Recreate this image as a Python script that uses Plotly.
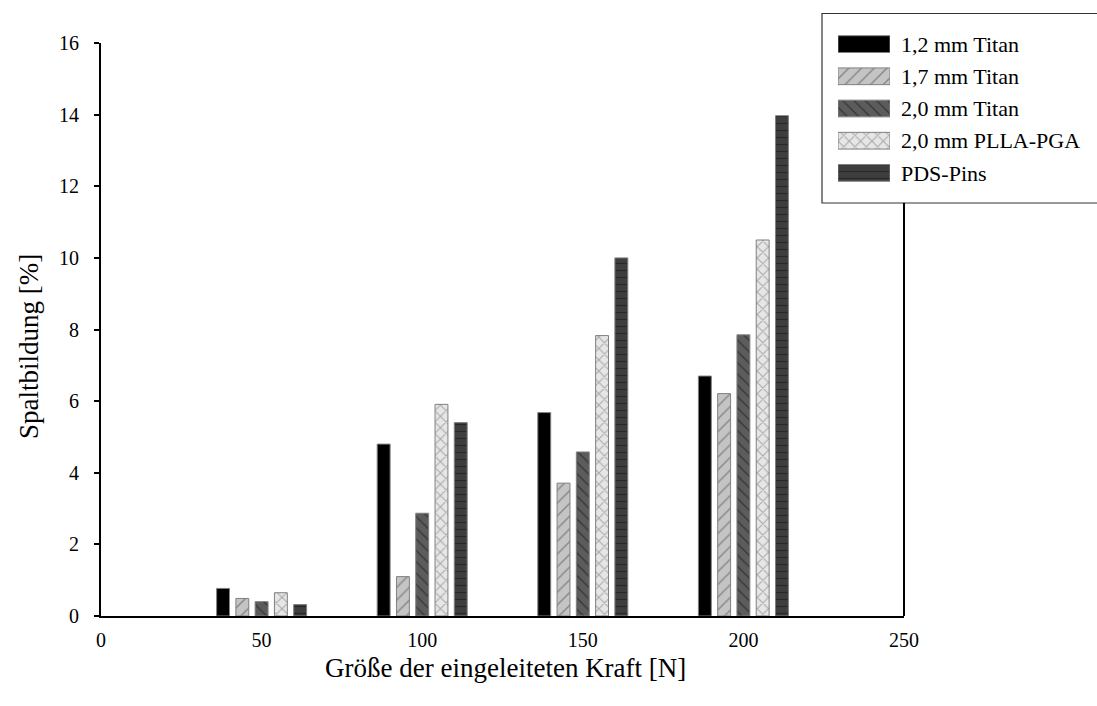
import plotly.graph_objects as go

forces = [50, 100, 150, 200]
series_names = ["1,2 mm Titan", "1,7 mm Titan", "2,0 mm Titan", "2,0 mm PLLA-PGA", "PDS-Pins"]
v_12_titan = [0.77, 4.80, 5.68, 6.70]
v_17_titan = [0.49, 1.10, 3.71, 6.21]
v_20_titan = [0.40, 2.87, 4.58, 7.85]
v_20_plla = [0.65, 5.91, 7.83, 10.50]
v_pds = [0.32, 5.40, 10.00, 13.97]
series_values = [v_12_titan, v_17_titan, v_20_titan, v_20_plla, v_pds]
y_ticks = [0, 2, 4, 6, 8, 10, 12, 14, 16]
x_ticks = [0, 50, 100, 150, 200, 250]

styles = [
    dict(color="#000000", pattern=None),
    dict(color="#c4c4c4", pattern=dict(shape="/", fgcolor="#4a4a4a", bgcolor="#c4c4c4", size=9, solidity=0.16, fillmode="overlay")),
    dict(color="#5c5c5c", pattern=dict(shape="\\", fgcolor="#151515", bgcolor="#5c5c5c", size=8, solidity=0.18, fillmode="overlay")),
    dict(color="#e6e6e6", pattern=dict(shape="x", fgcolor="#6a6a6a", bgcolor="#e6e6e6", size=8, solidity=0.25, fillmode="overlay")),
    dict(color="#3e3e3e", pattern=dict(shape="-", fgcolor="#111111", bgcolor="#3e3e3e", size=7, solidity=0.18, fillmode="overlay")),
]

FONT = "Liberation Serif"
fig = go.Figure()

for name, vals, st in zip(series_names, series_values, styles):
    marker = dict(color=st["color"], line=dict(color="#808080", width=1))
    if st["pattern"]:
        marker["pattern"] = st["pattern"]
    fig.add_trace(go.Bar(x=forces, y=vals, name=name, marker=marker,
                         showlegend=False, xaxis="x", yaxis="y"))

# custom legend drawn on a small secondary axis
for name, st in zip(series_names, styles):
    marker = dict(color=st["color"], line=dict(color="#808080", width=1))
    if st["pattern"]:
        marker["pattern"] = st["pattern"]
    fig.add_trace(go.Bar(x=[1], y=[name], orientation="h", marker=marker, width=0.52,
                         showlegend=False, xaxis="x2", yaxis="y2", hoverinfo="skip"))

W, H = 1097, 706
ml, mt, mb = 101, 13, 90
pw = W - ml
ph = H - mt - mb
plot_right = 904
plot_top = 43

def px_x(p):
    return (p - ml) / pw

def px_y(p):
    return (H - mb - p) / ph

fig.update_layout(
    width=W, height=H, autosize=False,
    margin=dict(l=ml, r=0, t=mt, b=mb, pad=0),
    paper_bgcolor="white", plot_bgcolor="white",
    barmode="group", bargap=0.4, bargroupgap=0.33,
    font=dict(family=FONT, color="black", size=20),
    xaxis=dict(domain=[0, px_x(plot_right)], range=[0, 250], tickvals=x_ticks,
               ticks="", showgrid=False, zeroline=False, showline=True, automargin=False,
               linecolor="black", linewidth=2, tickfont=dict(size=20, family=FONT),
               ticklabelstandoff=5),
    yaxis=dict(domain=[0, px_y(plot_top)], range=[0, 16], tickvals=y_ticks, automargin=False,
               ticks="outside", ticklen=5, tickwidth=1.5, tickcolor="black",
               showgrid=False, zeroline=False, showline=True, linecolor="black", linewidth=2,
               tickfont=dict(size=20, family=FONT), ticklabelstandoff=11),
    xaxis2=dict(domain=[px_x(838), px_x(890)], range=[0, 1], anchor="y2", automargin=False,
                showgrid=False, zeroline=False, showticklabels=False, showline=False, fixedrange=True),
    yaxis2=dict(domain=[px_y(189), px_y(28)], anchor="x2", side="right", automargin=False,
                categoryorder="array", categoryarray=series_names, autorange="reversed",
                showgrid=False, zeroline=False, showline=False, ticks="",
                tickfont=dict(size=22, family=FONT), ticklabelstandoff=10),
    shapes=[
        dict(type="rect", xref="paper", yref="paper", x0=px_x(822), x1=1.02,
             y0=px_y(203), y1=px_y(13.5), line=dict(color="#333333", width=1.2),
             fillcolor="rgba(0,0,0,0)", layer="below"),
        dict(type="line", xref="paper", yref="paper", x0=px_x(plot_right), x1=px_x(plot_right),
             y0=0, y1=px_y(203), line=dict(color="black", width=2)),
    ],
    annotations=[
        dict(text="Größe der eingeleiteten Kraft [N]", xref="paper", yref="paper",
             x=px_x(505), y=px_y(668), showarrow=False, xanchor="center", yanchor="middle",
             font=dict(size=27, family=FONT)),
        dict(text="Spaltbildung [%]", xref="paper", yref="paper", textangle=-90,
             x=px_x(29), y=px_y(347), showarrow=False, xanchor="center", yanchor="middle",
             font=dict(size=27, family=FONT)),
    ],
)

fig.write_html("out.html")
